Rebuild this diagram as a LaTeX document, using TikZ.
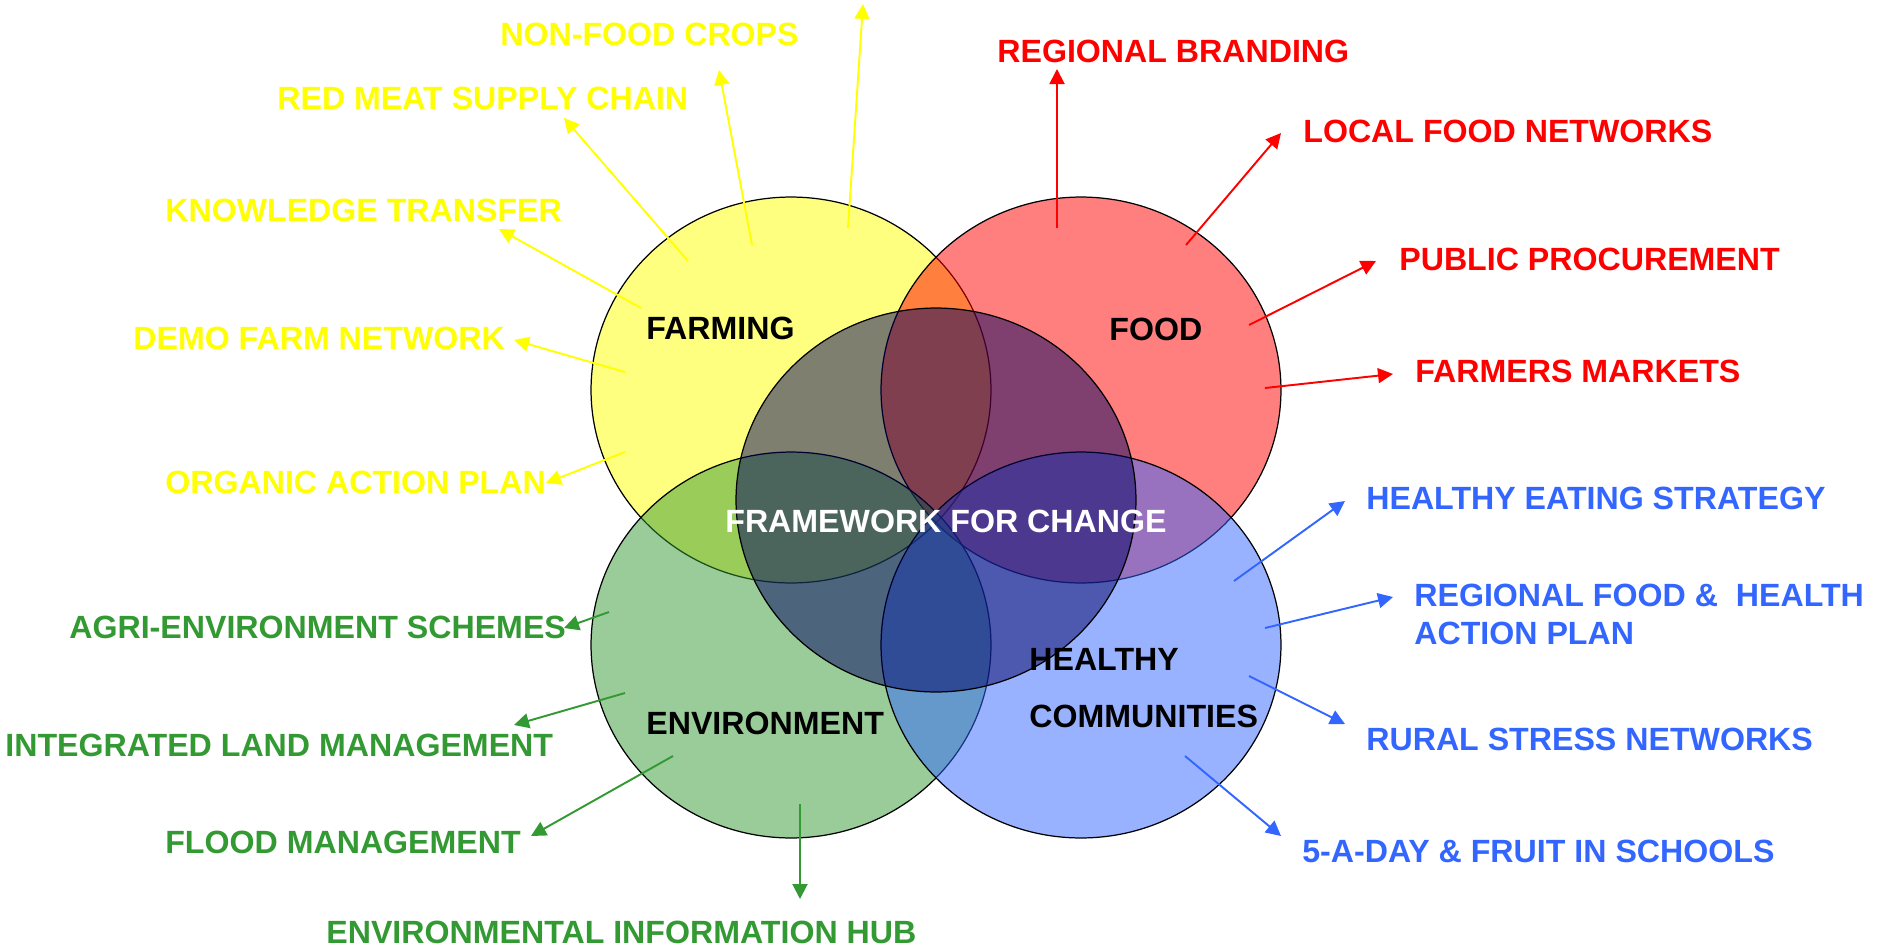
\documentclass[tikz,border=0pt]{standalone}
\usepackage{fontspec}
\setmainfont{Liberation Sans}
\usepackage{xcolor}
\usepackage{tikz}
\usetikzlibrary{arrows.meta}
\definecolor{farmyellow}{RGB}{255,255,0}
\definecolor{foodred}{RGB}{255,0,0}
\definecolor{envgreen}{RGB}{51,153,51}
\definecolor{healthblue}{RGB}{51,102,255}
\definecolor{framenavy}{RGB}{0,0,96}
\tikzset{
	lbl/.style={font=\bfseries\fontsize{18.3}{20}\selectfont, inner sep=0pt, anchor=base west},
	ptr/.style={line width=1.1pt, -{Triangle[length=0.3cm,width=0.3cm]}},
	ring/.style={draw=black, line width=0.7pt, fill opacity=0.5}
}

\begin{document}
\begin{tikzpicture}[x=0.02cm, y=-0.02cm]
	\useasboundingbox (0,0) rectangle (1877,948);
	% the five rings
	\filldraw[ring, fill=farmyellow] (791,390) ellipse [x radius=4cm, y radius=3.86cm];
	\filldraw[ring, fill=foodred] (1081,390) ellipse [x radius=4cm, y radius=3.86cm];
	\filldraw[ring, fill=envgreen] (791,645) ellipse [x radius=4cm, y radius=3.86cm];
	\filldraw[ring, fill=healthblue] (1081,645) ellipse [x radius=4cm, y radius=3.86cm];
	\filldraw[ring, fill=framenavy] (936,500) ellipse [x radius=4cm, y radius=3.84cm];

	% ring titles
	\node[lbl] (farming) at (646,339) {FARMING};
	\node[lbl] (food) at (1109,340) {FOOD};
	\node[lbl] (environ) at (646,734) {ENVIRONMENT};
	\node[lbl] (healthy) at (1029,670) {HEALTHY};
	\node[lbl] (communities) at (1029,727) {COMMUNITIES};
	\node[lbl, white] (framework) at (725,532) {FRAMEWORK FOR CHANGE};

	% farming
	\node[lbl, farmyellow] (nonfood) at (500,45) {NON-FOOD CROPS};
	\node[lbl, farmyellow] (redmeat) at (277,109) {RED MEAT SUPPLY CHAIN};
	\node[lbl, farmyellow] (knowledge) at (165,221) {KNOWLEDGE TRANSFER};
	\node[lbl, farmyellow] (demofarm) at (133,349) {DEMO FARM NETWORK};
	\node[lbl, farmyellow] (organic) at (165,493) {ORGANIC ACTION PLAN};
	\coordinate (top-t) at (848,228); \coordinate (top-h) at (863,4);
	\coordinate (nf-t) at (752,245); \coordinate (nf-h) at (719,70);
	\coordinate (rm-t) at (688,261); \coordinate (rm-h) at (564,118);
	\coordinate (kt-t) at (641,308); \coordinate (kt-h) at (499,229);
	\coordinate (df-t) at (625,372); \coordinate (df-h) at (514,340);
	\coordinate (oa-t) at (625,452); \coordinate (oa-h) at (546,483);
	\foreach \a in {top,nf,rm,kt,df,oa}
		\draw[ptr, farmyellow] (\a-t) -- (\a-h);

	% food
	\node[lbl, foodred] (branding) at (997,62) {REGIONAL BRANDING};
	\node[lbl, foodred] (localfood) at (1303,142) {LOCAL FOOD NETWORKS};
	\node[lbl, foodred] (procure) at (1399,270) {PUBLIC PROCUREMENT};
	\node[lbl, foodred] (markets) at (1415,382) {FARMERS MARKETS};
	\coordinate (rb-t) at (1057,228); \coordinate (rb-h) at (1057,69);
	\coordinate (lf-t) at (1186,245); \coordinate (lf-h) at (1281,133);
	\coordinate (pp-t) at (1249,325); \coordinate (pp-h) at (1376,261);
	\coordinate (fm-t) at (1265,388); \coordinate (fm-h) at (1393,374);
	\foreach \a in {rb,lf,pp,fm}
		\draw[ptr, foodred] (\a-t) -- (\a-h);

	% environment
	\node[lbl, envgreen] (agrienv) at (69,638) {AGRI-ENVIRONMENT SCHEMES};
	\node[lbl, envgreen] (landman) at (5,756) {INTEGRATED LAND MANAGEMENT};
	\node[lbl, envgreen] (flood) at (165,853) {FLOOD MANAGEMENT};
	\node[lbl, envgreen] (infohub) at (326,943) {ENVIRONMENTAL INFORMATION HUB};
	\coordinate (ae-t) at (609,612); \coordinate (ae-h) at (564,628);
	\coordinate (il-t) at (625,693); \coordinate (il-h) at (514,725);
	\coordinate (fl-t) at (673,756); \coordinate (fl-h) at (531,836);
	\coordinate (ei-t) at (800,804); \coordinate (ei-h) at (800,899);
	\foreach \a in {ae,il,fl,ei}
		\draw[ptr, envgreen] (\a-t) -- (\a-h);

	% healthy communities
	\node[lbl, healthblue] (eating) at (1366,509) {HEALTHY EATING STRATEGY};
	\node[lbl, healthblue] (regplan) at (1414,606) {REGIONAL FOOD \& \ HEALTH};
	\node[lbl, healthblue] (regplan2) at (1414,644) {ACTION PLAN};
	\node[lbl, healthblue] (stress) at (1366,750) {RURAL STRESS NETWORKS};
	\node[lbl, healthblue] (fiveaday) at (1302,862) {5-A-DAY \& FRUIT IN SCHOOLS};
	\coordinate (he-t) at (1234,581); \coordinate (he-h) at (1345,501);
	\coordinate (rf-t) at (1265,628); \coordinate (rf-h) at (1393,597);
	\coordinate (rs-t) at (1249,676); \coordinate (rs-h) at (1345,724);
	\coordinate (fd-t) at (1185,756); \coordinate (fd-h) at (1281,836);
	\foreach \a in {he,rf,rs,fd}
		\draw[ptr, healthblue] (\a-t) -- (\a-h);
\end{tikzpicture}
\end{document}
